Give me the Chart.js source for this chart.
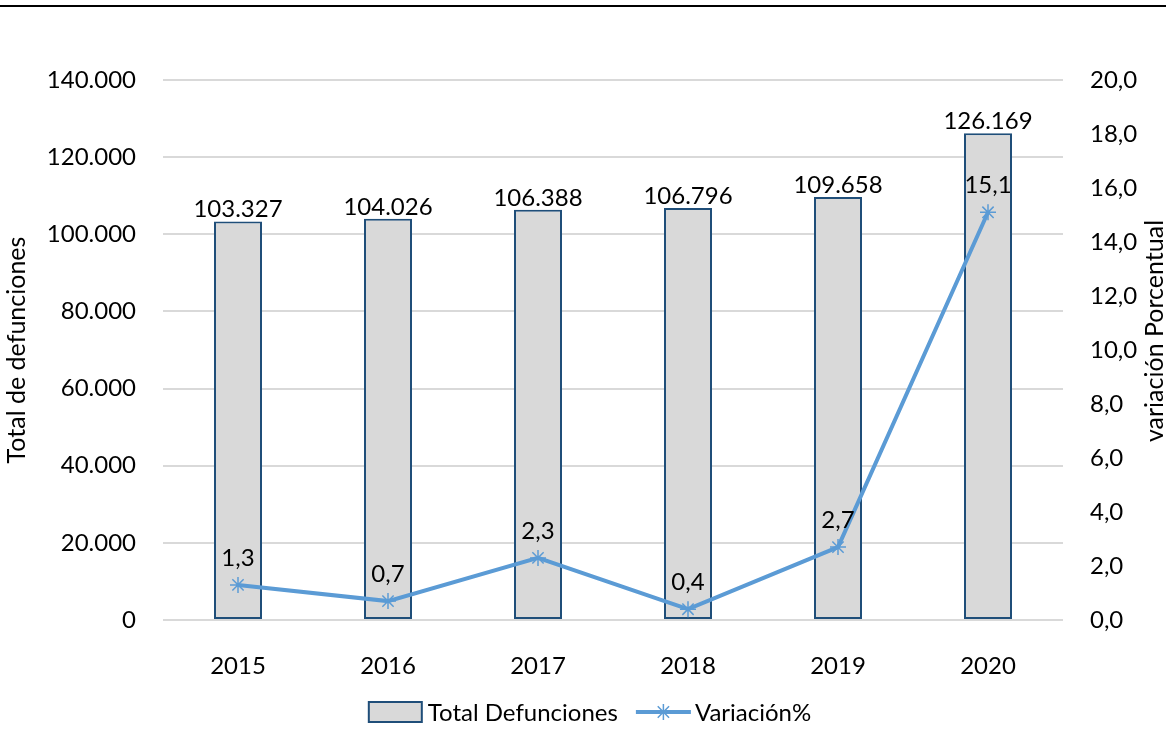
<!DOCTYPE html>
<html><head><meta charset="utf-8">
<script src="https://cdn.jsdelivr.net/npm/chart.js@4"></script>
<style>html,body{margin:0;padding:0;background:#fff}#wrap{width:1166px;height:754px;position:relative}</style>
</head><body><div id="wrap"><canvas id="c" width="1166" height="754"></canvas></div>
<script>
const categories = ['2015','2016','2017','2018','2019','2020'];
const totalDefunciones = [103327,104026,106388,106796,109658,126169];
const variacion = [1.3,0.7,2.3,0.4,2.7,15.1];
const seriesNames = ['Total Defunciones','Variación%'];
const leftTitle = 'Total de defunciones';
const rightTitle = 'variación Porcentual';

const FONT = 'Lato';
const fmtThousands = v => Math.round(v).toString().replace(/\B(?=(\d{3})+(?!\d))/g, '.');
const fmtDec = v => v.toFixed(1).replace('.', ',');

const extras = {
  id: 'extras',
  afterDraw(chart) {
    const ctx = chart.ctx, ca = chart.chartArea;
    ctx.save();
    // top rule
    ctx.fillStyle = '#000';
    ctx.fillRect(0, 5, chart.width, 2);
    // data labels
    ctx.fillStyle = '#000';
    ctx.font = '24px ' + FONT;
    ctx.textAlign = 'center';
    ctx.textBaseline = 'alphabetic';
    chart.getDatasetMeta(1).data.forEach((el, i) => {
      ctx.fillText(fmtThousands(totalDefunciones[i]), el.x, el.y - 4);
    });
    chart.getDatasetMeta(0).data.forEach((el, i) => {
      ctx.fillText(fmtDec(variacion[i]), el.x, el.y - 19);
    });
    // axis titles
    ctx.font = '25px ' + FONT;
    ctx.textBaseline = 'middle';
    const cy = (ca.top + ca.bottom) / 2;
    ctx.save(); ctx.translate(17, cy); ctx.rotate(-Math.PI/2); ctx.fillText(leftTitle, 0, 0); ctx.restore();
    ctx.save(); ctx.translate(1155, cy - 19); ctx.rotate(-Math.PI/2); ctx.fillText(rightTitle, 0, 0); ctx.restore();
    // legend
    ctx.font = '24px ' + FONT;
    ctx.textAlign = 'left';
    const ly = 712;
    const w1 = ctx.measureText(seriesNames[0]).width, w2 = ctx.measureText(seriesNames[1]).width;
    const total = 53 + 6 + w1 + 18 + 55 + 4 + w2;
    let x = (chart.width - total) / 2 + 7;
    ctx.fillStyle = '#d9d9d9'; ctx.fillRect(x, ly - 10, 53, 20);
    ctx.strokeStyle = '#1f4e79'; ctx.lineWidth = 2; ctx.strokeRect(x, ly - 10, 53, 20);
    x += 59;
    ctx.fillStyle = '#000'; ctx.fillText(seriesNames[0], x, ly + 1);
    x += w1 + 18;
    ctx.strokeStyle = '#5b9bd5'; ctx.lineWidth = 4;
    ctx.beginPath(); ctx.moveTo(x, ly); ctx.lineTo(x + 55, ly); ctx.stroke();
    ctx.lineWidth = 1.5;
    Chart.helpers.drawPoint(ctx, {pointStyle: 'star', radius: 8, borderWidth: 1.5}, x + 27.5, ly);
    x += 59;
    ctx.fillStyle = '#000'; ctx.fillText(seriesNames[1], x, ly + 1);
    ctx.restore();
  }
};

new Chart(document.getElementById('c'), {
  data: {
    labels: categories,
    datasets: [
      { type: 'line', label: seriesNames[1], data: variacion, yAxisID: 'y1',
        borderColor: '#5b9bd5', backgroundColor: '#5b9bd5', borderWidth: 4,
        pointStyle: 'star', pointRadius: 8, pointBorderWidth: 1.5, pointBorderColor: '#5b9bd5',
        tension: 0, order: 0 },
      { type: 'bar', label: seriesNames[0], data: totalDefunciones, yAxisID: 'y',
        backgroundColor: '#d9d9d9', borderColor: '#1f4e79', borderWidth: 2, borderSkipped: false,
        categoryPercentage: 1, barPercentage: 0.32, order: 1 }
    ]
  },
  options: {
    responsive: false, animation: false,
    layout: { padding: { top: 80, left: 0, right: 0, bottom: 0 } },
    plugins: { legend: { display: false }, tooltip: { enabled: false } },
    scales: {
      x: { grid: { display: false }, border: { display: false },
        ticks: { color: '#000', font: { family: FONT, size: 24 }, padding: 24 },
        afterFit(s) { s.height = 134; } },
      y: { position: 'left', min: 0, max: 140000,
        ticks: { stepSize: 20000, color: '#000', font: { family: FONT, size: 24 }, padding: 27,
          callback: v => fmtThousands(v) },
        grid: { color: '#d9d9d9', lineWidth: 2, drawTicks: false }, border: { display: false },
        afterFit(s) { s.width = 163; } },
      y1: { position: 'right', min: 0, max: 20,
        ticks: { stepSize: 2, color: '#000', font: { family: FONT, size: 24 }, padding: 27,
          callback: v => fmtDec(v) },
        grid: { display: false, drawTicks: false }, border: { display: false },
        afterFit(s) { s.width = 103; } }
    }
  },
  plugins: [extras]
});
</script></body></html>
